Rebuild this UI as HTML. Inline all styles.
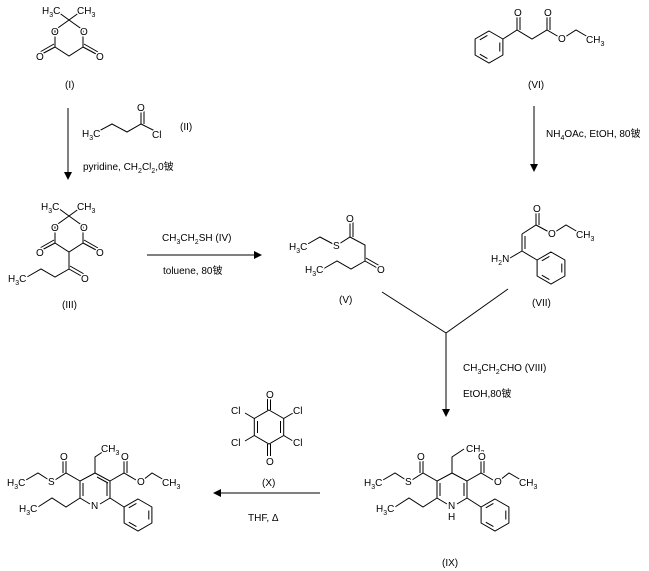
<!DOCTYPE html>
<html><head><meta charset="utf-8"><style>
html,body{margin:0;padding:0;background:#fff}
svg{display:block}
text{font-family:"Liberation Sans","Noto Sans CJK SC",sans-serif;font-size:10px;fill:#000;paint-order:stroke;stroke:#fff;stroke-width:3px;stroke-linejoin:round}
.s{font-size:7px}
line,polyline,polygon{stroke:#000;stroke-width:1;fill:none}
.ah{fill:#000;stroke:none}
</style></head><body>
<svg width="649" height="571" viewBox="0 0 649 571" xmlns="http://www.w3.org/2000/svg">
<defs>
<g id="ph">
<polygon points="0,-16 13.9,-8 13.9,8 0,16 -13.9,8 -13.9,-8"/>
<line x1="10.8" y1="-4.5" x2="10.8" y2="4.5"/>
<line x1="-1.6" y1="11.6" x2="-9.2" y2="7.2"/>
<line x1="-9.2" y1="-7.2" x2="-1.6" y2="-11.6"/>
</g>
</defs>

<!-- (I) -->
<polyline points="69,20 55,30 55,47 69,56 83,47 83,30 69,20"/>
<line x1="69" y1="20" x2="58" y2="12"/><line x1="69" y1="20" x2="80" y2="12"/>
<line x1="55" y1="47" x2="40" y2="55"/><line x1="54" y1="44" x2="40" y2="52"/>
<line x1="83" y1="47" x2="98" y2="55"/><line x1="84" y1="44" x2="98" y2="52"/>
<text x="42" y="14">H<tspan class="s" dy="3">3</tspan><tspan dy="-3">C</tspan></text>
<text x="77" y="14">CH<tspan class="s" dy="3">3</tspan></text>
<text x="51" y="35">O</text><text x="80" y="35">O</text>
<text x="36" y="60">O</text><text x="96" y="60">O</text>
<text x="65" y="88">(I)</text>

<!-- arrow 1 -->
<line x1="68" y1="108" x2="68" y2="174"/>
<polygon class="ah" points="64,172 72,172 68,180"/>
<!-- (II) -->
<polyline points="97,132 112,124 127,132 141,124 155,131"/>
<line x1="141" y1="124" x2="141" y2="110"/><line x1="144" y1="124" x2="144" y2="110"/>
<text x="82" y="137">H<tspan class="s" dy="3">3</tspan><tspan dy="-3">C</tspan></text>
<text x="137" y="111">O</text>
<text x="152" y="138">Cl</text>
<text x="180" y="130">(II)</text>
<text x="83" y="170">pyridine, CH<tspan class="s" dy="3">2</tspan><tspan dy="-3">Cl</tspan><tspan class="s" dy="3">2</tspan><tspan dy="-3">,0铍</tspan></text>

<!-- (III) -->
<polyline points="69,216 55,226 55,243 69,252 83,243 83,226 69,216"/>
<line x1="69" y1="216" x2="58" y2="208"/><line x1="69" y1="216" x2="80" y2="208"/>
<line x1="55" y1="243" x2="40" y2="251"/><line x1="54" y1="240" x2="40" y2="248"/>
<line x1="83" y1="243" x2="98" y2="251"/><line x1="84" y1="240" x2="98" y2="248"/>
<polyline points="69,252 69,269 55,277 41,269 27,277"/>
<line x1="69" y1="269" x2="83" y2="277"/><line x1="70" y1="266" x2="84" y2="274"/>
<text x="41" y="210">H<tspan class="s" dy="3">3</tspan><tspan dy="-3">C</tspan></text>
<text x="77" y="210">CH<tspan class="s" dy="3">3</tspan></text>
<text x="51" y="231">O</text><text x="80" y="231">O</text>
<text x="36" y="256">O</text><text x="96" y="256">O</text>
<text x="81" y="282">O</text>
<text x="8" y="282">H<tspan class="s" dy="3">3</tspan><tspan dy="-3">C</tspan></text>
<text x="62" y="308">(III)</text>

<!-- arrow 2 -->
<line x1="147" y1="255" x2="256" y2="255"/>
<polygon class="ah" points="254,251 254,259 262,255"/>
<text x="162" y="241">CH<tspan class="s" dy="3">3</tspan><tspan dy="-3">CH</tspan><tspan class="s" dy="3">2</tspan><tspan dy="-3">SH  (IV)</tspan></text>
<text x="163" y="274">toluene, 80铍</text>

<!-- (V) -->
<polyline points="306,245 320,237 335,245"/>
<polyline points="339,244 350,237 365,245 365,261"/>
<line x1="350" y1="237" x2="350" y2="221"/><line x1="353" y1="237" x2="353" y2="221"/>
<line x1="365" y1="261" x2="379" y2="269"/><line x1="366" y1="258" x2="380" y2="266"/>
<polyline points="365,261 351,269 337,261 323,269"/>
<text x="289" y="250">H<tspan class="s" dy="3">3</tspan><tspan dy="-3">C</tspan></text>
<text x="333" y="249">S</text>
<text x="346" y="222">O</text>
<text x="377" y="273">O</text>
<text x="305" y="273">H<tspan class="s" dy="3">3</tspan><tspan dy="-3">C</tspan></text>
<text x="339" y="303">(V)</text>

<!-- (VI) -->
<use href="#ph" x="489" y="47"/>
<polyline points="503,39 517,30 532,39 547,30 559,37"/>
<line x1="517" y1="30" x2="517" y2="16"/><line x1="520" y1="30" x2="520" y2="16"/>
<line x1="547" y1="30" x2="547" y2="16"/><line x1="550" y1="30" x2="550" y2="16"/>
<polyline points="565,37 576,30 588,37"/>
<text x="514" y="16">O</text><text x="544" y="16">O</text>
<text x="558" y="42">O</text>
<text x="586" y="43">CH<tspan class="s" dy="3">3</tspan></text>
<text x="528" y="88">(VI)</text>

<!-- arrow 3 -->
<line x1="534" y1="106" x2="534" y2="166"/>
<polygon class="ah" points="530,164 538,164 534,172"/>
<text x="546" y="137">NH<tspan class="s" dy="3">4</tspan><tspan dy="-3">OAc, EtOH, 80铍</tspan></text>

<!-- (VII) -->
<line x1="536" y1="225" x2="536" y2="211"/><line x1="539" y1="225" x2="539" y2="211"/>
<polyline points="522,234 536,225 549,232"/>
<polyline points="555,232 566,225 578,232"/>
<line x1="522" y1="234" x2="522" y2="251"/><line x1="525" y1="236" x2="525" y2="249"/>
<line x1="522" y1="251" x2="510" y2="258"/>
<line x1="522" y1="251" x2="537" y2="260"/>
<use href="#ph" x="551" y="268"/>
<text x="533" y="212">O</text>
<text x="548" y="237">O</text>
<text x="576" y="238">CH<tspan class="s" dy="3">3</tspan></text>
<text x="491" y="262">H<tspan class="s" dy="3">2</tspan><tspan dy="-3">N</tspan></text>
<text x="532" y="306">(VII)</text>

<!-- Y connector -->
<line x1="382" y1="292" x2="446" y2="333"/>
<line x1="508" y1="289" x2="446" y2="333"/>
<line x1="446" y1="333" x2="446" y2="411"/>
<polygon class="ah" points="442,409 450,409 446,417"/>
<text x="463" y="371">CH<tspan class="s" dy="3">3</tspan><tspan dy="-3">CH</tspan><tspan class="s" dy="3">2</tspan><tspan dy="-3">CHO  (VIII)</tspan></text>
<text x="463" y="397">EtOH,80铍</text>

<!-- (X) -->
<polygon points="269,410 283.7,418.5 283.7,435.5 269,444 254.3,435.5 254.3,418.5"/>
<line x1="280.5" y1="421" x2="280.5" y2="433"/>
<line x1="257.5" y1="421" x2="257.5" y2="433"/>
<line x1="267.5" y1="410" x2="267.5" y2="398"/><line x1="270.5" y1="410" x2="270.5" y2="398"/>
<line x1="267.5" y1="444" x2="267.5" y2="456"/><line x1="270.5" y1="444" x2="270.5" y2="456"/>
<line x1="283.7" y1="418.5" x2="293" y2="413"/><line x1="283.7" y1="435.5" x2="293" y2="441"/>
<line x1="254.3" y1="418.5" x2="245" y2="413"/><line x1="254.3" y1="435.5" x2="245" y2="441"/>
<text x="266" y="398">O</text><text x="266" y="465">O</text>
<text x="231" y="414">Cl</text><text x="293" y="414">Cl</text>
<text x="231" y="446">Cl</text><text x="293" y="446">Cl</text>
<text x="262" y="486">(X)</text>

<!-- arrow 4 -->
<line x1="320" y1="493" x2="219" y2="493"/>
<polygon class="ah" points="221,489 221,497 213,493"/>
<text x="248" y="521">THF, Δ</text>

<!-- (IX) -->
<polyline points="452,473 467,481 467,498 457,504"/>
<polyline points="447,504 437,498 437,481 452,473"/>
<line x1="464" y1="483" x2="464" y2="496"/>
<line x1="440" y1="483" x2="440" y2="496"/>
<polyline points="452,473 452,457 464,449"/>
<polyline points="467,481 481,473 493,480"/>
<line x1="481" y1="473" x2="481" y2="459"/><line x1="484" y1="473" x2="484" y2="459"/>
<polyline points="500,480 509,473 521,480"/>
<polyline points="437,481 423,473 412,480"/>
<line x1="423" y1="473" x2="423" y2="459"/><line x1="420" y1="473" x2="420" y2="459"/>
<polyline points="406,480 395,473 383,480"/>
<polyline points="437,498 423,507 409,498 395,507"/>
<line x1="467" y1="498" x2="481" y2="507"/>
<use href="#ph" x="495" y="515"/>
<text x="466" y="452">CH<tspan class="s" dy="3">3</tspan></text>
<text x="478" y="460">O</text><text x="417" y="460">O</text>
<text x="494" y="485">O</text>
<text x="519" y="486">CH<tspan class="s" dy="3">3</tspan></text>
<text x="405" y="485">S</text>
<text x="364" y="486">H<tspan class="s" dy="3">3</tspan><tspan dy="-3">C</tspan></text>
<text x="376" y="512">H<tspan class="s" dy="3">3</tspan><tspan dy="-3">C</tspan></text>
<text x="448" y="509">N</text><text x="448" y="520">H</text>
<text x="442" y="566">(IX)</text>

<!-- product -->
<polyline points="95,473 110,481 110,498 100,504"/>
<polyline points="90,504 80,498 80,481 95,473"/>
<line x1="107" y1="483" x2="107" y2="496"/>
<line x1="83" y1="483" x2="83" y2="496"/>
<line x1="97" y1="477" x2="108" y2="483"/>
<polyline points="95,473 95,457 107,449"/>
<polyline points="110,481 124,473 136,480"/>
<line x1="124" y1="473" x2="124" y2="459"/><line x1="127" y1="473" x2="127" y2="459"/>
<polyline points="143,480 152,473 164,480"/>
<polyline points="80,481 66,473 55,480"/>
<line x1="66" y1="473" x2="66" y2="459"/><line x1="63" y1="473" x2="63" y2="459"/>
<polyline points="49,480 38,473 26,480"/>
<polyline points="80,498 66,507 52,498 38,507"/>
<line x1="110" y1="498" x2="124" y2="507"/>
<use href="#ph" x="138" y="515"/>
<text x="101" y="452">CH<tspan class="s" dy="3">3</tspan></text>
<text x="121" y="460">O</text><text x="60" y="460">O</text>
<text x="137" y="485">O</text>
<text x="162" y="486">CH<tspan class="s" dy="3">3</tspan></text>
<text x="48" y="485">S</text>
<text x="7" y="486">H<tspan class="s" dy="3">3</tspan><tspan dy="-3">C</tspan></text>
<text x="19" y="512">H<tspan class="s" dy="3">3</tspan><tspan dy="-3">C</tspan></text>
<text x="91" y="509">N</text>
</svg>
</body></html>
